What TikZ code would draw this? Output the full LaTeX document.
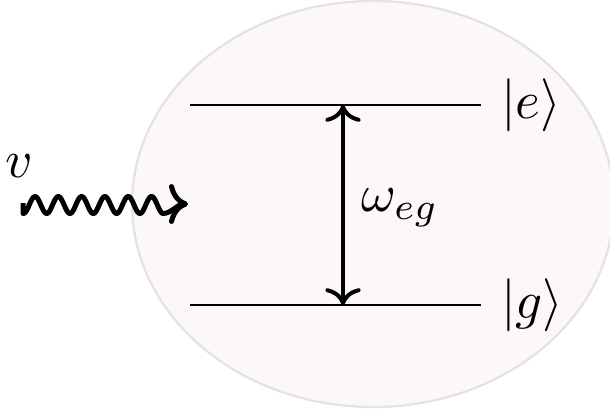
\documentclass[tikz,border=0pt]{standalone}
\usetikzlibrary{arrows.meta}
\definecolor{bubblefill}{RGB}{253,248,248}
\definecolor{bubbleedge}{RGB}{228,226,226}
\tikzset{
  level/.style={line width=0.45pt},
  transition/.style={<->, line width=0.8pt},
  photon/.style={->, line width=1pt, line join=round},
  lbl/.style={scale=1.06},
}
\begin{document}
\begin{tikzpicture}[x=0.2pt,y=-0.2pt]
\useasboundingbox (0,0) rectangle (610,414);
\fill[bubblefill, draw=bubbleedge, line width=0.45pt] (373,204) ellipse [x radius=48.2pt, y radius=40.6pt];
\coordinate (e1) at (190,105);
\coordinate (e2) at (481,105);
\coordinate (g1) at (190,305);
\coordinate (g2) at (481,305);
\coordinate (ae) at (343,105);
\coordinate (ag) at (343,305);
\coordinate (w1) at (23,203);
\coordinate (w2) at (188,204);
\draw[level] (e1) -- (e2);
\draw[level] (g1) -- (g2);
\draw[transition] (ag) -- (ae);
\node[lbl, anchor=west, inner sep=0pt] (ke) at (500,105) {$|e\rangle$};
\node[lbl, anchor=west, inner sep=0pt] (kg) at (500,305) {$|g\rangle$};
\node[lbl] (weg) at (400,208) {$\omega_{eg}$};
\node[lbl] (v) at (19,166) {$v$};
\draw[photon] (w1) -- plot[domain=23:163.2, samples=160, smooth] (\x, {205-8.5*sin((\x-29.2)*15.451)}) .. controls (171,213.5) and (178,204) .. (w2);
\end{tikzpicture}
\end{document}
